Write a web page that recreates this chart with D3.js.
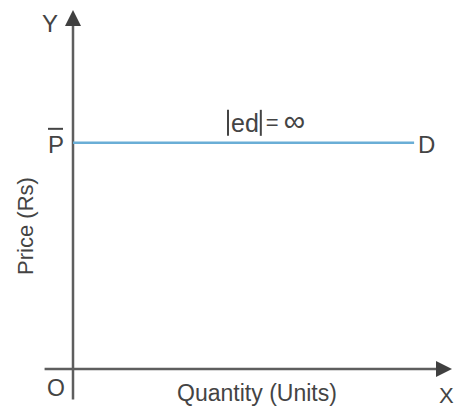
<!DOCTYPE html>
<html><head><meta charset="utf-8">
<script src="https://cdn.jsdelivr.net/npm/d3@7"></script>
<style>html,body{margin:0;padding:0;background:#fff;}svg{display:block;}</style>
</head><body>
<svg id="c" width="454" height="407"></svg>
<script>
// Conceptual data: perfectly elastic demand curve at price P̄
const quantity = [0, 90];
const price = [63, 63];
const axisExtent = { xMin: -7.5, xMax: 100, yMin: -8.5, yMax: 100 };
const labels = { x: "Quantity (Units)", y: "Price (Rs)", curve: "D", price: "P", elasticity: "ed", origin: "O" };

const svg = d3.select("#c");
const x = d3.scaleLinear().domain([0, 100]).range([73, 452]);
const y = d3.scaleLinear().domain([0, 100]).range([369, 10]);
const axisColor = "#5e5e5e", textColor = "#444";
const font = "'Liberation Sans', Arial, sans-serif";

// axes
svg.append("line").attr("x1", x(axisExtent.xMin)).attr("x2", x(axisExtent.xMax) - 12)
  .attr("y1", y(0)).attr("y2", y(0)).attr("stroke", axisColor).attr("stroke-width", 2.5);
svg.append("line").attr("x1", x(0)).attr("x2", x(0))
  .attr("y1", y(axisExtent.yMin)).attr("y2", y(axisExtent.yMax) + 12).attr("stroke", axisColor).attr("stroke-width", 2.5);
// arrowheads
const xt = x(axisExtent.xMax), yt = y(axisExtent.yMax);
svg.append("path").attr("d", `M${xt},${y(0)} L${xt-16},${y(0)-8} L${xt-16},${y(0)+8} Z`).attr("fill", "#404040");
svg.append("path").attr("d", `M${x(0)},${yt} L${x(0)-8},${yt+16} L${x(0)+8},${yt+16} Z`).attr("fill", "#404040");

// demand line
const line = d3.line().x(d => x(d[0])).y(d => y(d[1]));
svg.append("path").datum(d3.zip(quantity, price)).attr("d", line)
  .attr("fill", "none").attr("stroke", "#6aaed6").attr("stroke-width", 2.5);

const T = (tx, ty, s, size, anchor) => svg.append("text").attr("x", tx).attr("y", ty).text(s)
  .attr("font-family", font).attr("font-size", size).attr("fill", textColor).attr("text-anchor", anchor || "start");

// labels
T(x(0) - 31, y(axisExtent.yMax) + 22, "Y", 24);
T(439, 403, "X", 22);
T(x(0) - 26, y(0) + 27, labels.origin, 23);
T(257, 401, labels.x, 23, "middle");
svg.append("text").attr("transform", `translate(33,226) rotate(-90)`)
  .attr("text-anchor", "middle").attr("font-family", font).attr("font-size", 22).attr("fill", textColor).text(labels.y);
// P bar
const py = y(price[0]);
T(x(0) - 25, py + 10, labels.price, 24);
svg.append("line").attr("x1", x(0) - 25).attr("x2", x(0) - 10).attr("y1", py - 14).attr("y2", py - 14)
  .attr("stroke", textColor).attr("stroke-width", 2);
// D
T(x(quantity[1]) + 4, py + 10, labels.curve, 24);
// |ed| = ∞
const ex = 231, ey = py - 11;
const ed = T(ex, ey, labels.elasticity, 25);
const w = ed.node().getComputedTextLength();
svg.append("line").attr("x1", ex - 3).attr("x2", ex - 3).attr("y1", ey - 22).attr("y2", ey + 4).attr("stroke", textColor).attr("stroke-width", 2);
svg.append("line").attr("x1", ex + w + 2).attr("x2", ex + w + 2).attr("y1", ey - 22).attr("y2", ey + 4).attr("stroke", textColor).attr("stroke-width", 2);
T(ex + w + 7, ey - 2, "=", 22);
T(ex + w + 25, ey - 1, "\u221E", 30);
</script>
</body></html>
